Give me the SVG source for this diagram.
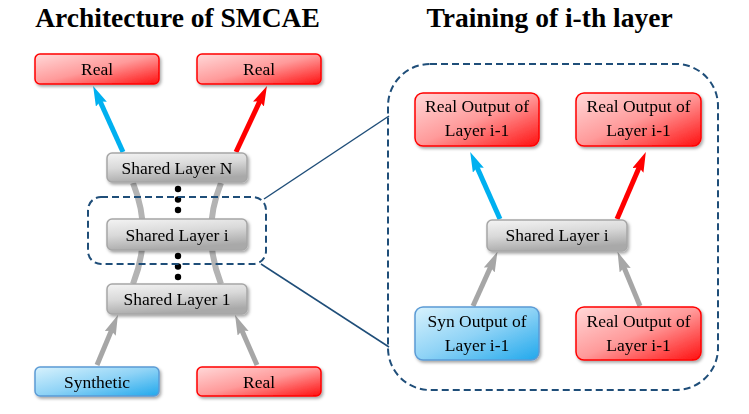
<svg xmlns="http://www.w3.org/2000/svg" width="749" height="414" viewBox="0 0 749 414">
<style>
.title{font-family:"Liberation Serif","Times New Roman",serif;font-weight:bold;font-size:27.5px;fill:#000;text-anchor:middle}
.lbl{font-family:"Liberation Serif","Times New Roman",serif;font-size:17.5px;fill:#000;text-anchor:middle}
.red{fill:url(#gRed);stroke:#ff0000;stroke-width:1.5}
.blue{fill:url(#gBlue);stroke:#5b9bd5;stroke-width:1.5}
.gray{fill:url(#gGray);stroke:#a6a6a6;stroke-width:1.5}
.box{filter:url(#sh)}
.dash{fill:none;stroke:#1f4e79;stroke-width:2;stroke-dasharray:7 4}
.link{stroke:#1f4e79;stroke-width:1.5;fill:none}
.aBlue{stroke:#00b0f0;stroke-width:5;fill:none;marker-end:url(#mBlue)}
.aRed{stroke:#ff0000;stroke-width:5;fill:none;marker-end:url(#mRed)}
.aGray{stroke:#a6a6a6;stroke-width:5;fill:none;marker-end:url(#mGray)}
.band{stroke:#b3b3b3;stroke-width:6;fill:none}
</style>
<defs>
<linearGradient id="gRed" x1="0" y1="0" x2="1" y2="1">
<stop offset="0" stop-color="#ffd9d9"/><stop offset="0.5" stop-color="#ff9a9a"/><stop offset="1" stop-color="#ff1010"/>
</linearGradient>
<linearGradient id="gBlue" x1="0" y1="0" x2="1" y2="1">
<stop offset="0" stop-color="#d8f2fd"/><stop offset="0.5" stop-color="#8fd3f6"/><stop offset="1" stop-color="#20a8ec"/>
</linearGradient>
<linearGradient id="gGray" x1="0" y1="0" x2="0.3" y2="1">
<stop offset="0" stop-color="#f4f4f4"/><stop offset="0.5" stop-color="#d9d9d9"/><stop offset="1" stop-color="#a9a9a9"/>
</linearGradient>
<filter id="sh" x="-10%" y="-20%" width="125%" height="150%">
<feDropShadow dx="1.5" dy="2" stdDeviation="1.5" flood-color="#000" flood-opacity="0.35"/>
</filter>
<marker id="mBlue" markerUnits="userSpaceOnUse" markerWidth="22" markerHeight="14" refX="6" refY="6" orient="auto">
<path d="M0,0 L20,6 L0,12 L3,6 z" fill="#00b0f0"/>
</marker>
<marker id="mRed" markerUnits="userSpaceOnUse" markerWidth="22" markerHeight="14" refX="6" refY="6" orient="auto">
<path d="M0,0 L20,6 L0,12 L3,6 z" fill="#ff0000"/>
</marker>
<marker id="mGray" markerUnits="userSpaceOnUse" markerWidth="22" markerHeight="14" refX="6" refY="6" orient="auto">
<path d="M0,0 L20,6 L0,12 L3,6 z" fill="#a6a6a6"/>
</marker>
</defs>
<rect width="749" height="414" fill="#fff"/>
<text class="title" x="177.5" y="27">Architecture of SMCAE</text>
<text class="title" x="549.5" y="27">Training of i-th layer</text>

<g id="connectors">
<path class="band" d="M133,183 Q153,233 133,284"/>
<path class="band" d="M221,183 Q201,233 221,284"/>
<line class="aBlue" x1="123" y1="152" x2="98.9" y2="98.7"/>
<line class="aRed" x1="236" y1="152" x2="261" y2="98.6"/>
<line class="aGray" x1="97" y1="365" x2="112.5" y2="327.9"/>
<line class="aGray" x1="257" y1="365" x2="240.7" y2="327.8"/>
<line class="aBlue" x1="500" y1="219" x2="475.9" y2="164.7"/>
<line class="aRed" x1="617" y1="219" x2="640.3" y2="164.8"/>
<line class="aGray" x1="473" y1="306" x2="491.7" y2="264.5"/>
<line class="aGray" x1="640" y1="306" x2="622.9" y2="264.7"/>
<line class="link" x1="264" y1="199" x2="389" y2="116"/>
<line class="link" x1="261" y1="264" x2="389" y2="347"/>
</g>

<g id="dots">
<circle cx="178" cy="189" r="3.2"/><circle cx="178" cy="199.5" r="3.2"/><circle cx="178" cy="210" r="3.2"/>
<circle cx="178" cy="256" r="3.2"/><circle cx="178" cy="266.5" r="3.2"/><circle cx="178" cy="277" r="3.2"/>
</g>

<g id="zoom-frame-left"><rect class="dash" x="88" y="197" width="178" height="67" rx="13"/></g>
<g id="zoom-frame-right"><rect class="dash" x="388" y="64" width="330" height="326" rx="42"/></g>

<g id="real-top-left" class="box"><rect class="red" x="35" y="54" width="124" height="30" rx="5"/><text class="lbl" x="97" y="75">Real</text></g>
<g id="real-top-right" class="box"><rect class="red" x="197" y="54" width="124" height="30" rx="5"/><text class="lbl" x="259" y="75">Real</text></g>
<g id="shared-n" class="box"><rect class="gray" x="107" y="153" width="140" height="29" rx="5"/><text class="lbl" x="177" y="173.5">Shared Layer N</text></g>
<g id="shared-i-left" class="box"><rect class="gray" x="107" y="219" width="140" height="31" rx="5"/><text class="lbl" x="177" y="240.5">Shared Layer i</text></g>
<g id="shared-1" class="box"><rect class="gray" x="107" y="284" width="140" height="30" rx="5"/><text class="lbl" x="177" y="305">Shared Layer 1</text></g>
<g id="synthetic" class="box"><rect class="blue" x="35" y="367" width="124" height="29" rx="5"/><text class="lbl" x="97" y="387.5">Synthetic</text></g>
<g id="real-bottom" class="box"><rect class="red" x="197" y="367" width="124" height="29" rx="5"/><text class="lbl" x="259" y="387.5">Real</text></g>

<g id="real-out-tl" class="box"><rect class="red" x="415" y="93" width="124" height="53" rx="8"/><text class="lbl" x="477" y="111.5">Real Output of</text><text class="lbl" x="477" y="135.5">Layer i-1</text></g>
<g id="real-out-tr" class="box"><rect class="red" x="576" y="93" width="125" height="53" rx="8"/><text class="lbl" x="638.5" y="111.5">Real Output of</text><text class="lbl" x="638.5" y="135.5">Layer i-1</text></g>
<g id="shared-i-right" class="box"><rect class="gray" x="487" y="220" width="140" height="31" rx="5"/><text class="lbl" x="557" y="241">Shared Layer i</text></g>
<g id="syn-out" class="box"><rect class="blue" x="415" y="307" width="124" height="53" rx="8"/><text class="lbl" x="477" y="326.5">Syn Output of</text><text class="lbl" x="477" y="350.5">Layer i-1</text></g>
<g id="real-out-br" class="box"><rect class="red" x="576" y="307" width="125" height="53" rx="8"/><text class="lbl" x="638.5" y="326.5">Real Output of</text><text class="lbl" x="638.5" y="350.5">Layer i-1</text></g>
</svg>
